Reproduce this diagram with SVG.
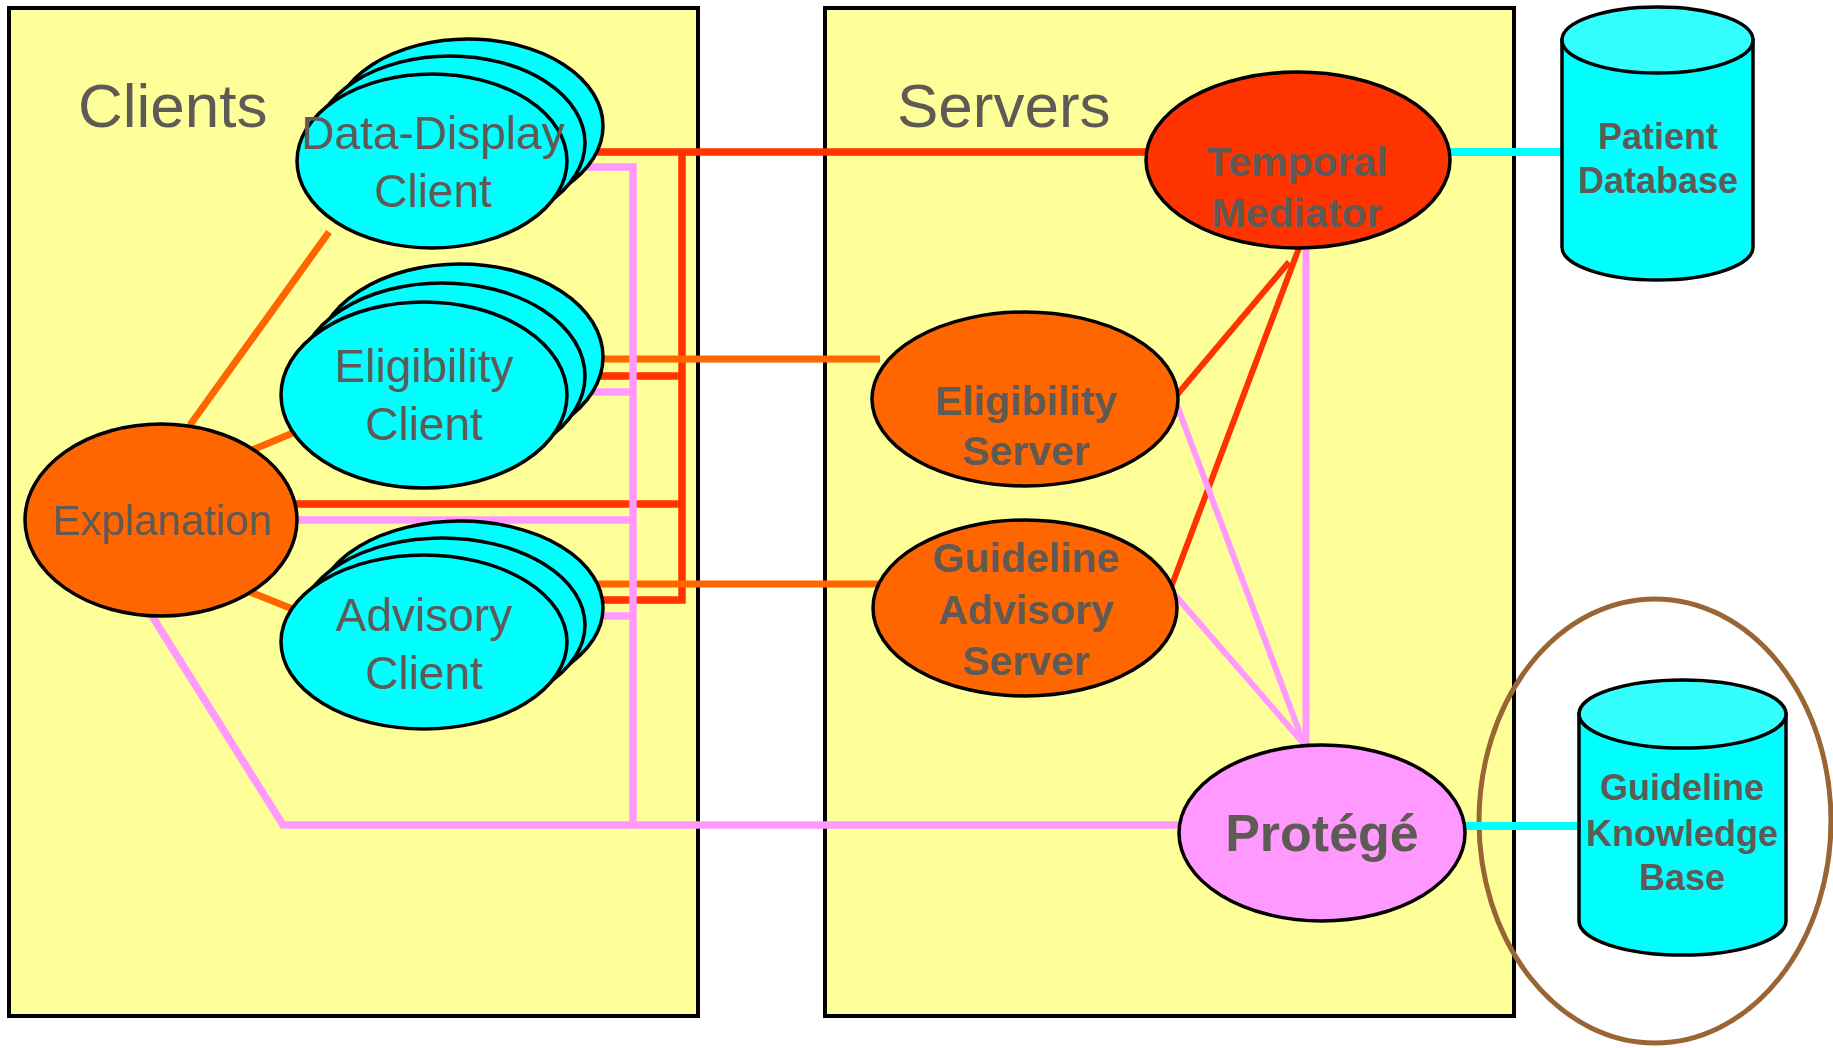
<svg xmlns="http://www.w3.org/2000/svg" width="1833" height="1048" viewBox="0 0 1833 1048">
  <style>
    .box { fill: #FFFF99; stroke: #000; stroke-width: 4; }
    .client { fill: #00FFFF; stroke: #000; stroke-width: 3.5; }
    .srv { fill: #FF6600; stroke: #000; stroke-width: 3.5; }
    .med { fill: #FF3300; stroke: #000; stroke-width: 3.5; }
    .prot { fill: #FF99FF; stroke: #000; stroke-width: 3.5; }
    .cyl { fill: #00FFFF; stroke: #000; stroke-width: 3.5; }
    .cyltop { fill: #33FFFF; stroke: #000; stroke-width: 3.5; }
    .ring { fill: none; stroke: #996633; stroke-width: 5; }
    .c-red { stroke: #FF3300; stroke-width: 7.5; fill: none; }
    .c-org { stroke: #FF6600; stroke-width: 7; fill: none; }
    .c-pink { stroke: #FF99FF; stroke-width: 7.5; fill: none; }
    .c-cyan { stroke: #00FFFF; stroke-width: 8; fill: none; }
    .thin { stroke-width: 6; }
    text { font-family: "Liberation Sans", Arial, sans-serif; fill: #5F5A55; text-anchor: middle; }
    .title { font-size: 62px; text-anchor: start; }
    .lbl { font-size: 46px; }
    .exp { font-size: 42px; }
    .bold { font-weight: bold; font-size: 41px; }
    .big { font-weight: bold; font-size: 52px; }
    .db { font-weight: bold; font-size: 36px; }
  </style>

  <!-- containers -->
  <g id="clients-box">
    <rect class="box" x="9" y="8" width="689" height="1008"/>
    <text class="title" x="78" y="127">Clients</text>
  </g>
  <g id="servers-box">
    <rect class="box" x="825" y="8" width="689" height="1008"/>
    <text class="title" x="897" y="127">Servers</text>
  </g>

  <!-- knowledge-base highlight -->
  <g id="kb-ring">
    <ellipse class="ring" cx="1655" cy="821" rx="176" ry="222"/>
  </g>

  <!-- connectors -->
  <g id="connectors">
    <!-- red bus -->
    <polyline class="c-red" points="590,152 1150,152"/>
    <polyline class="c-red" points="682,149 682,600 590,600"/>
    <polyline class="c-red" points="590,376 682,376"/>
    <polyline class="c-red" points="290,504 682,504"/>
    <!-- orange links to servers -->
    <polyline class="c-org" points="590,359 880,359"/>
    <polyline class="c-org" points="590,584 880,584"/>
    <!-- explanation to clients -->
    <line class="c-org" x1="190" y1="425" x2="329" y2="232"/>
    <line class="c-org" x1="240" y1="455" x2="300" y2="430"/>
    <line class="c-org" x1="240" y1="588" x2="300" y2="612"/>
    <!-- pink bus -->
    <polyline class="c-pink" points="580,167 633,167 633,825"/>
    <polyline class="c-pink" points="590,392 633,392"/>
    <polyline class="c-pink" points="290,520 633,520"/>
    <polyline class="c-pink" points="590,616 633,616"/>
    <polyline class="c-pink" points="152,616 283,825 1185,825"/>
    <!-- server links -->
    <line class="c-red thin" x1="1176" y1="396" x2="1289" y2="262"/>
    <line class="c-red thin" x1="1170" y1="590" x2="1299" y2="248"/>
    <line class="c-pink thin" x1="1175" y1="400" x2="1304" y2="744"/>
    <line class="c-pink thin" x1="1175" y1="595" x2="1304" y2="744"/>
    <line class="c-pink" x1="1306" y1="248" x2="1306" y2="748" stroke-linecap="round" style="stroke-width:7"/>
    <!-- data stores -->
    <line class="c-cyan" x1="1445" y1="152" x2="1566" y2="152"/>
    <line class="c-cyan" x1="1460" y1="826" x2="1583" y2="826"/>
  </g>

  <!-- client nodes -->
  <g id="data-display-client">
    <ellipse class="client" cx="468" cy="126" rx="135" ry="87"/>
    <ellipse class="client" cx="450" cy="143" rx="135" ry="87"/>
    <ellipse class="client" cx="432" cy="161" rx="135" ry="87"/>
    <text class="lbl" x="433" y="149">Data-Display</text>
    <text class="lbl" x="433" y="207">Client</text>
  </g>
  <g id="eligibility-client">
    <ellipse class="client" cx="460" cy="357" rx="143" ry="93"/>
    <ellipse class="client" cx="442" cy="376" rx="143" ry="93"/>
    <ellipse class="client" cx="424" cy="395" rx="143" ry="93"/>
    <text class="lbl" x="424" y="382">Eligibility</text>
    <text class="lbl" x="424" y="440">Client</text>
  </g>
  <g id="advisory-client">
    <ellipse class="client" cx="460" cy="608" rx="143" ry="87"/>
    <ellipse class="client" cx="442" cy="625" rx="143" ry="87"/>
    <ellipse class="client" cx="424" cy="642" rx="143" ry="87"/>
    <text class="lbl" x="424" y="631">Advisory</text>
    <text class="lbl" x="424" y="689">Client</text>
  </g>
  <g id="explanation">
    <ellipse class="srv" cx="161" cy="520" rx="136" ry="96"/>
    <text class="exp" x="162" y="535">Explanation</text>
  </g>

  <!-- server nodes -->
  <g id="temporal-mediator">
    <ellipse class="med" cx="1298" cy="160" rx="152" ry="88"/>
    <text class="bold" x="1297" y="176">Temporal</text>
    <text class="bold" x="1297" y="227">Mediator</text>
  </g>
  <g id="eligibility-server">
    <ellipse class="srv" cx="1025" cy="399" rx="153" ry="87"/>
    <text class="bold" x="1026" y="415">Eligibility</text>
    <text class="bold" x="1026" y="465">Server</text>
  </g>
  <g id="guideline-advisory-server">
    <ellipse class="srv" cx="1025" cy="608" rx="152" ry="88"/>
    <text class="bold" x="1026" y="572">Guideline</text>
    <text class="bold" x="1026" y="624">Advisory</text>
    <text class="bold" x="1026" y="675">Server</text>
  </g>
  <g id="protege">
    <ellipse class="prot" cx="1322" cy="833" rx="143" ry="88"/>
    <text class="big" x="1322" y="851">Protégé</text>
  </g>

  <!-- data stores -->
  <g id="patient-database">
    <path class="cyl" d="M1562,40 L1562,247 A95.5,33 0 0 0 1753,247 L1753,40 Z"/>
    <ellipse class="cyltop" cx="1657.5" cy="40" rx="95.5" ry="33"/>
    <text class="db" x="1658" y="149">Patient</text>
    <text class="db" x="1658" y="193">Database</text>
  </g>
  <g id="guideline-knowledge-base">
    <path class="cyl" d="M1579,714 L1579,921 A103.5,34 0 0 0 1786,921 L1786,714 Z"/>
    <ellipse class="cyltop" cx="1682.5" cy="714" rx="103.5" ry="34"/>
    <text class="db" x="1682" y="800">Guideline</text>
    <text class="db" x="1682" y="846">Knowledge</text>
    <text class="db" x="1682" y="890">Base</text>
  </g>
</svg>
